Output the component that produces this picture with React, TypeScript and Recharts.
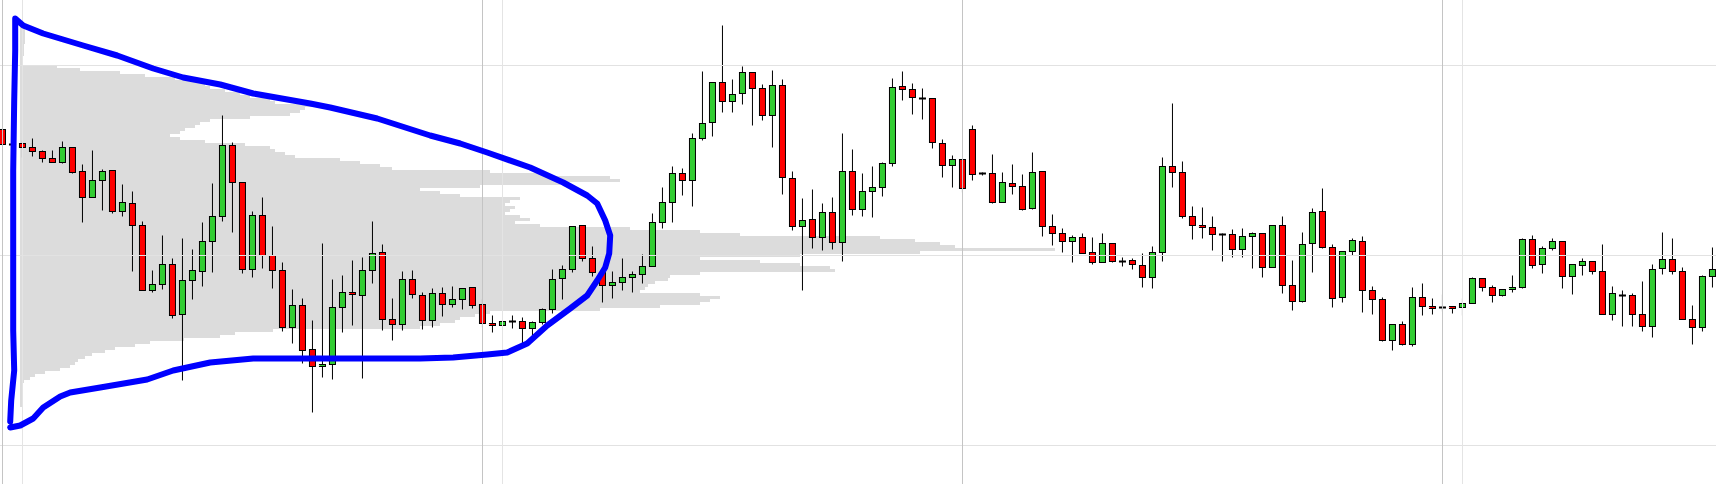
import React from 'react'
import { ComposedChart, BarChart, Bar, Scatter, XAxis, YAxis, ReferenceLine } from 'recharts'

const W = 1716
const H = 484

// candle index on x, price on y
const X_DOMAIN: [number, number] = [-0.25, 171.35]
const Y_DOMAIN: [number, number] = [-28.5, 455.5]
const VOL_DOMAIN: [number, number] = [-20, 1696]

const opens = [
  326, 311, 312, 308, 304, 297, 293, 308, 284, 258, 275, 285,
  244, 252, 230, 165, 171, 191, 141, 175, 184, 214, 239, 310,
  273, 186, 240, 200, 185, 128, 150, 106, 89, 91, 148, 163,
  160, 185, 203, 136, 131, 176, 160, 135, 162, 151, 156, 168,
  151, 132, 130, 134, 134, 127, 133, 146, 177, 186, 230, 197,
  183, 170, 173, 178, 181, 189, 233, 253, 282, 275, 317, 333,
  373, 354, 362, 383, 367, 340, 370, 277, 229, 236, 218, 243,
  213, 284, 246, 264, 268, 292, 369, 366, 357, 357, 312, 290,
  296, 326, 282, 282, 253, 272, 269, 247, 284, 229, 222, 214,
  218, 203, 193, 212, 194, 195, 190, 178, 203, 289, 283, 239,
  230, 228, 221, 221, 206, 219, 222, 188, 230, 170, 154, 212,
  244, 208, 158, 204, 214, 165, 156, 115, 131, 111, 158, 149,
  148, 149, 148, 152, 177, 168, 160, 166, 168, 216, 191, 207,
  214, 179, 190, 194, 184, 141, 160, 160, 141, 129, 187, 196,
  184, 136, 128, 179,
]
const highs = [
  327, 312, 315, 317, 305, 305, 314, 308, 291, 305, 286, 285,
  271, 264, 234, 185, 220, 197, 217, 206, 233, 272, 340, 313,
  273, 244, 258, 229, 193, 166, 157, 135, 212, 176, 180, 195,
  198, 234, 211, 157, 184, 185, 163, 167, 168, 169, 167, 168,
  156, 140, 135, 140, 138, 134, 147, 186, 190, 229, 230, 209,
  185, 184, 197, 184, 201, 242, 268, 289, 287, 322, 384, 373,
  430, 376, 389, 383, 371, 385, 376, 284, 257, 266, 252, 258,
  322, 306, 282, 289, 293, 377, 384, 372, 367, 357, 316, 300,
  296, 330, 283, 301, 283, 291, 281, 303, 284, 241, 227, 220,
  222, 218, 222, 212, 198, 197, 202, 209, 298, 352, 294, 249,
  248, 239, 222, 226, 227, 223, 222, 230, 239, 195, 223, 247,
  267, 211, 204, 217, 219, 169, 158, 131, 134, 168, 172, 157,
  161, 149, 157, 178, 177, 170, 166, 180, 217, 220, 209, 217,
  214, 191, 197, 194, 211, 169, 165, 162, 174, 191, 223, 217,
  188, 150, 180, 208,
]
const lows = [
  310, 309, 298, 299, 293, 293, 292, 282, 233, 258, 245, 242,
  239, 184, 165, 163, 166, 137, 75, 156, 169, 183, 234, 223,
  182, 178, 187, 167, 124, 112, 92, 43, 78, 76, 123, 130,
  77, 172, 125, 115, 125, 157, 126, 128, 139, 148, 146, 147,
  128, 123, 130, 127, 109, 119, 131, 142, 156, 183, 194, 179,
  153, 157, 165, 163, 172, 189, 227, 233, 260, 249, 315, 319,
  343, 343, 351, 330, 335, 308, 261, 225, 165, 207, 205, 206,
  194, 240, 239, 238, 259, 289, 355, 341, 336, 307, 278, 268,
  263, 275, 280, 252, 253, 261, 245, 246, 219, 210, 203, 193,
  202, 191, 193, 193, 189, 186, 168, 167, 194, 268, 237, 216,
  217, 205, 194, 198, 198, 187, 178, 188, 162, 145, 153, 183,
  207, 148, 153, 200, 143, 141, 114, 105, 110, 109, 140, 141,
  144, 142, 140, 152, 164, 153, 159, 163, 167, 187, 182, 205,
  167, 161, 180, 181, 141, 135, 129, 129, 124, 118, 181, 181,
  136, 111, 124, 168,
]
const closes = [
  311, 311, 308, 304, 297, 293, 308, 283, 258, 275, 284, 244,
  253, 230, 165, 171, 191, 140, 175, 185, 214, 239, 310, 273,
  186, 240, 200, 185, 128, 150, 105, 89, 91, 148, 163, 161,
  185, 202, 136, 131, 176, 161, 135, 162, 151, 156, 167, 150,
  132, 130, 134, 134, 127, 133, 146, 176, 186, 229, 197, 183,
  170, 173, 178, 181, 189, 233, 253, 282, 275, 317, 332, 373,
  354, 361, 383, 367, 340, 370, 278, 229, 235, 218, 243, 213,
  284, 246, 264, 268, 292, 368, 366, 358, 357, 313, 290, 296,
  267, 281, 282, 253, 273, 269, 246, 283, 229, 222, 214, 218,
  202, 193, 212, 194, 194, 191, 178, 203, 289, 283, 239, 230,
  228, 221, 221, 206, 219, 222, 188, 230, 170, 154, 211, 243,
  208, 157, 204, 215, 165, 156, 115, 131, 111, 158, 149, 147,
  148, 147, 152, 177, 168, 160, 166, 168, 216, 190, 207, 214,
  179, 191, 194, 184, 141, 162, 160, 141, 129, 186, 196, 184,
  136, 128, 179, 186,
]

// volume profile: price level -> volume
const profileLevels = [
  428, 425, 422, 419, 416, 413, 410, 407, 404, 401, 398, 395, 392, 389, 386, 383,
  380, 377, 374, 371, 368, 365, 362, 359, 356, 353, 350, 347, 344, 341, 338, 335,
  332, 329, 326, 323, 320, 317, 314, 311, 308, 305, 302, 299, 296, 293, 290, 287,
  284, 281, 278, 275, 272, 269, 266, 263, 260, 257, 254, 251, 248, 245, 242, 239,
  236, 233, 230, 227, 224, 221, 218, 215, 212, 209, 206, 203, 200, 197, 194, 191,
  188, 185, 182, 179, 176, 173, 170, 167, 164, 161, 158, 155, 152, 149, 146, 143,
  140, 137, 134, 131, 128, 125, 122, 119, 116, 113, 110, 107, 104, 101, 98, 95,
  92, 89, 86, 83, 80, 77, 74, 71, 68, 65, 62, 59, 56, 53, 50,
]
const profileVolumes = [
  5, 5, 5, 5, 5, 5, 4, 4, 4, 4, 3, 3, 3, 37, 60, 100,
  125, 155, 185, 185, 190, 205, 220, 230, 250, 255, 295, 285, 280, 270, 230, 190,
  180, 175, 165, 160, 150, 160, 185, 225, 250, 255, 265, 275, 320, 340, 360, 372,
  470, 530, 590, 600, 540, 460, 400, 420, 440, 500, 490, 485, 495, 490, 485, 500,
  510, 495, 520, 610, 680, 720, 860, 895, 920, 935, 1035, 900, 780, 680, 740, 780,
  810, 815, 680, 650, 648, 635, 628, 625, 620, 680, 700, 690, 680, 640, 580, 470,
  455, 440, 435, 420, 400, 253, 215, 200, 164, 130, 115, 95, 85, 72, 65, 58,
  55, 50, 40, 25, 15, 10, 4, 3, 3, 3, 3, 3, 3, 3, 3,
]

// hand drawn outline (candle index, price)
const outlineX = [
  0.77, 0.87, 1.17, 1.07, 1.07, 1.07, 1.17, 1.27, 1.27, 2.07, 4.07, 8.07,
  11.47, 15.07, 18.07, 21.77, 25.07, 30.77, 32.77, 37.47, 42.77, 45.77, 48.47, 52.77,
  56.07, 58.47, 59.47, 60.27, 60.77, 60.67, 60.27, 59.47, 58.47, 56.77, 54.47, 52.47,
  50.47, 48.47, 45.07, 41.77, 32.77, 25.07, 20.77, 17.07, 14.47, 9.77, 6.77, 5.77,
  4.07, 3.07, 1.77, 0.77,
]
const outlineY = [
  34, 55, 85, 125, 205, 285, 355, 405, 437, 430, 422, 410,
  400, 387, 378, 371, 362, 352, 348, 337, 320, 312, 303, 288,
  273, 260, 252, 235, 220, 202, 188, 175, 160, 147, 130, 112,
  103, 101, 98, 97, 97, 97, 93, 85, 76, 68, 63, 59,
  48, 37, 30, 28,
]

const gridPrices = [390, 200, 10]
const gridDark = [0, 48, 96, 144]
const gridLight = [2, 50, 146]

const candles = opens.map((o, i) => ({
  x: i,
  o,
  h: highs[i],
  l: lows[i],
  c: closes[i],
  range: [lows[i], highs[i]],
}))
const profile = profileLevels.map((p, i) => ({ p, v: profileVolumes[i] }))
const outline = outlineX.map((x, i) => ({ x, y: outlineY[i] }))

function Candle(props: any) {
  const { x, y, width, height, payload } = props
  if (!payload) return null
  const { o, h, l, c } = payload
  const top = height < 0 ? y + height : y
  const span = Math.abs(height)
  const k = span / (h - l)
  const py = (v: number) => top + (h - v) * k
  const cx = x + width / 2
  const bt = py(Math.max(o, c))
  const bb = py(Math.min(o, c))
  return (
    <g>
      <line x1={cx} x2={cx} y1={top} y2={top + span} stroke="#000" strokeWidth={1} />
      {o === c ? (
        <rect x={cx - 3.5} y={bt - 1} width={7} height={2} fill="#000" />
      ) : (
        <rect
          x={cx - 3}
          y={bt}
          width={6}
          height={Math.max(bb - bt, 1)}
          fill={c > o ? '#32cd32' : '#ff0000'}
          stroke="#000"
          strokeWidth={1}
        />
      )}
    </g>
  )
}

const margin = { top: 0, right: 0, bottom: 0, left: 0 }

export default function App() {
  return (
    <div style={{ position: 'absolute', left: 0, top: 0, width: W, height: H, background: '#fff' }}>
      <div style={{ position: 'absolute', left: 0, top: 0 }}>
        <BarChart
          width={W}
          height={H}
          data={profile}
          layout="vertical"
          margin={margin}
          barCategoryGap={0}
          barGap={0}
        >
          <XAxis type="number" domain={VOL_DOMAIN} hide allowDataOverflow />
          <YAxis type="number" dataKey="p" domain={Y_DOMAIN} reversed hide allowDataOverflow />
          <Bar dataKey="v" fill="#dcdcdc" barSize={2.99} isAnimationActive={false} />
        </BarChart>
      </div>
      <div style={{ position: 'absolute', left: 0, top: 0 }}>
        <ComposedChart width={W} height={H} data={candles} margin={margin}>
          <XAxis type="number" dataKey="x" domain={X_DOMAIN} hide allowDataOverflow />
          <YAxis type="number" domain={Y_DOMAIN} hide allowDataOverflow />
          {gridPrices.map((v) => (
            <ReferenceLine key={'h' + v} y={v} stroke="#e2e2e2" strokeWidth={1} />
          ))}
          {gridLight.map((v) => (
            <ReferenceLine key={'l' + v} x={v} stroke="#e4e4e4" strokeWidth={1} />
          ))}
          {gridDark.map((v) => (
            <ReferenceLine key={'d' + v} x={v} stroke="#c4c4c4" strokeWidth={1} />
          ))}
          <Bar dataKey="range" barSize={7} shape={(p: any) => <Candle {...p} />} isAnimationActive={false} />
          <Scatter
            data={outline}
            dataKey="y"
            line={{ stroke: '#0000ff', strokeWidth: 6, strokeLinecap: 'round', strokeLinejoin: 'round' }}
            lineType="joint"
            shape={() => <g />}
            isAnimationActive={false}
          />
        </ComposedChart>
      </div>
    </div>
  )
}
